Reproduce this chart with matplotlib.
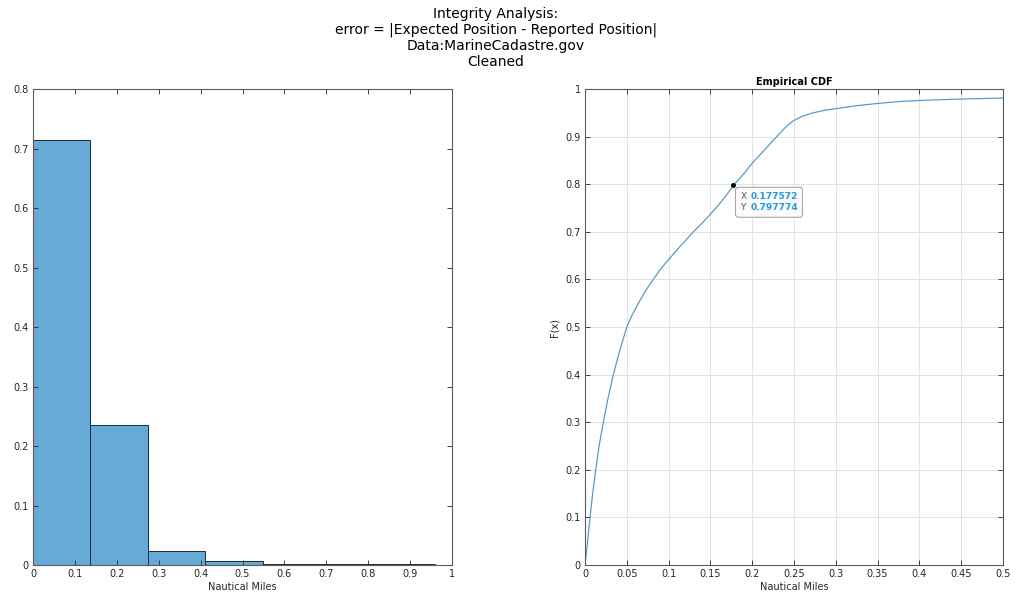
import numpy as np
import matplotlib
matplotlib.use('Agg')
import matplotlib.pyplot as plt
from matplotlib.patches import FancyBboxPatch
from matplotlib.transforms import ScaledTranslation

# histogram (probability normalised)
bin_edges = [0, 0.137, 0.274, 0.411, 0.548, 0.685, 0.822, 0.959]
bin_probs = [0.714, 0.235, 0.024, 0.0060, 0.0022, 0.0013, 0.0012]

# empirical CDF
cdf_x = [0, 0.0028, 0.006, 0.0092, 0.0128, 0.0167, 0.0219, 0.0275, 0.0339, 0.0411,
         0.050, 0.0565, 0.0638, 0.072, 0.0817, 0.090, 0.0997, 0.1136, 0.1296, 0.140,
         0.150, 0.160, 0.170, 0.1776, 0.190, 0.2013, 0.210, 0.2200, 0.2293, 0.240,
         0.249, 0.260, 0.273, 0.286, 0.301, 0.325, 0.352, 0.375, 0.402, 0.425,
         0.452, 0.475, 0.5]
cdf_y = [0, 0.0456, 0.1, 0.1506, 0.2, 0.2486, 0.3, 0.350, 0.4, 0.448,
         0.5, 0.526, 0.5497, 0.575, 0.6, 0.621, 0.641, 0.669, 0.700, 0.718,
         0.737, 0.757, 0.779, 0.7978, 0.822, 0.847, 0.863, 0.882, 0.900, 0.920,
         0.933, 0.943, 0.950, 0.955, 0.959, 0.965, 0.970, 0.9735, 0.976, 0.9775,
         0.979, 0.980, 0.981]

tip_x = 0.177572
tip_y = 0.797774

AX_COL = '#262626'
plt.rcParams['font.family'] = 'DejaVu Sans'

fig = plt.figure(figsize=(10.16, 5.97), dpi=100)
ax1 = fig.add_axes([0.0325, 0.0536, 0.4124, 0.7973])
ax2 = fig.add_axes([0.5758, 0.0536, 0.4114, 0.7973])

def matlab_style(ax):
    for s in ax.spines.values():
        s.set_color('#5a5a5a')
        s.set_linewidth(0.8)
    ax.tick_params(direction='in', top=True, right=True, length=3.5, width=0.6,
                   color=AX_COL, labelsize=7, labelcolor=AX_COL, pad=3)

# left: histogram
ax1.bar(bin_edges[:-1], bin_probs, width=np.diff(bin_edges), align='edge',
        color='#66aad7', edgecolor='#1f2a36', linewidth=0.7)
ax1.set_xlim(0, 1)
ax1.set_ylim(0, 0.8)
ax1.set_xticks(np.arange(0, 1.01, 0.1))
ax1.set_xticklabels(['0', '0.1', '0.2', '0.3', '0.4', '0.5', '0.6', '0.7', '0.8', '0.9', '1'])
ax1.set_yticks(np.arange(0, 0.81, 0.1))
ax1.set_yticklabels(['0', '0.1', '0.2', '0.3', '0.4', '0.5', '0.6', '0.7', '0.8'])
ax1.set_xlabel('Nautical Miles', fontsize=7, color=AX_COL, labelpad=2)
matlab_style(ax1)

# right: empirical CDF
ax2.plot(cdf_x, cdf_y, color='#4a98cf', linewidth=0.85)
ax2.set_xlim(0, 0.5)
ax2.set_ylim(0, 1)
ax2.set_xticks(np.arange(0, 0.501, 0.05))
ax2.set_xticklabels(['0', '0.05', '0.1', '0.15', '0.2', '0.25', '0.3', '0.35', '0.4', '0.45', '0.5'])
ax2.set_yticks(np.arange(0, 1.01, 0.1))
ax2.set_yticklabels(['0', '0.1', '0.2', '0.3', '0.4', '0.5', '0.6', '0.7', '0.8', '0.9', '1'])
ax2.grid(True, color='#e3e3e3', linewidth=0.7)
ax2.set_axisbelow(True)
ax2.set_xlabel('Nautical Miles', fontsize=7, color=AX_COL, labelpad=2)
ax2.set_ylabel('F(x)', fontsize=7, color=AX_COL, labelpad=4)
ax2.set_title('Empirical CDF', fontsize=7, fontweight='bold', color='black', pad=3)
matlab_style(ax2)

# data tip: box placed in inches relative to the tip point
tip_trans = fig.dpi_scale_trans + ScaledTranslation(tip_x, tip_y, ax2.transData)
ax2.add_patch(FancyBboxPatch((0.02, -0.32), 0.67, 0.30,
                             boxstyle='round,pad=0,rounding_size=0.03',
                             facecolor='#fbfbfb', edgecolor='#a8a8a8',
                             linewidth=0.8, transform=tip_trans, zorder=6,
                             clip_on=False))
ax2.plot([tip_x], [tip_y], 'o', color='black', markersize=2.5, zorder=7)
ax2.annotate('X\nY', xy=(tip_x, tip_y), xytext=(5, -5), textcoords='offset points',
             fontsize=6.5, color='#555555', va='top', ha='left', linespacing=1.2, zorder=8)
ax2.annotate('%.6f\n%.6f' % (tip_x, tip_y), xy=(tip_x, tip_y), xytext=(12.5, -5),
             textcoords='offset points', fontsize=6.5, color='#1a9bf0',
             fontweight='bold', va='top', ha='left', linespacing=1.2, zorder=8)

fig.suptitle('Integrity Analysis:\nerror = |Expected Position - Reported Position|\n'
             'Data:MarineCadastre.gov\nCleaned',
             x=0.488, y=0.988, fontsize=10, linespacing=1.15)

fig.savefig('out.png', dpi=100)
